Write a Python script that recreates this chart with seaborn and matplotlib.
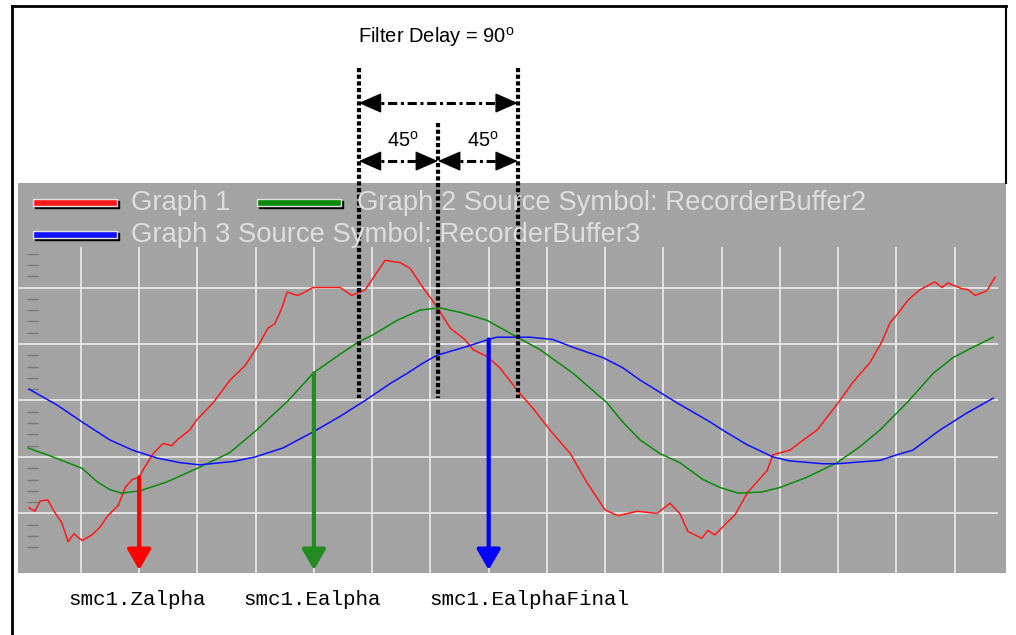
import numpy as np
import pandas as pd
import seaborn as sns
from matplotlib import pyplot as plt
from matplotlib.patches import Rectangle
from matplotlib.lines import Line2D

# --- data (t in samples, value in scope units) ---
red_t = [1.1, 2.1, 3.0, 4.3, 5.5, 6.7, 7.8, 8.8, 10.2, 11.9, 13.3, 14.6, 16.4, 17.6,
         18.8, 20.0, 20.6, 22.4, 24.1, 25.6, 26.5, 28.7, 29.9, 32.7, 35.6, 38.2, 40.7,
         42.1, 43.3, 44.5, 45.4, 47.1, 48.1, 49.8, 52.7, 54.5, 56.5, 58.8, 62.2, 64.8,
         66.5, 68.7, 71.1, 73.4, 75.9, 77.3, 79.7, 81.9, 84.9, 87.6, 90.5, 94.0, 96.9,
         100.0, 102.2, 105.5, 108.9, 111.1, 112.8, 114.2, 116.6, 117.6, 118.8, 122.3,
         124.5, 127.8, 128.8, 131.7, 134.0, 136.4, 140.0, 142.5, 145.5, 147.5, 148.9,
         150.1, 152.0, 154.0, 156.6, 157.8, 158.8, 161.2, 162.3, 163.5, 165.5, 166.9]
red_v = [-0.95, -0.98, -0.89, -0.88, -0.99, -1.08, -1.25, -1.18, -1.24, -1.19, -1.12,
         -1.02, -0.93, -0.77, -0.70, -0.68, -0.62, -0.47, -0.38, -0.40, -0.35, -0.26,
         -0.17, -0.02, 0.18, 0.31, 0.51, 0.64, 0.68, 0.82, 0.96, 0.93, 0.95, 1.00, 1.00,
         1.00, 0.93, 0.98, 1.24, 1.22, 1.17, 1.00, 0.83, 0.64, 0.54, 0.45, 0.39, 0.29,
         0.09, -0.07, -0.26, -0.47, -0.73, -0.97, -1.02, -0.98, -1.00, -0.91, -1.00,
         -1.16, -1.22, -1.15, -1.19, -1.01, -0.81, -0.62, -0.48, -0.44, -0.35, -0.26,
         -0.02, 0.16, 0.34, 0.52, 0.69, 0.76, 0.89, 0.98, 1.05, 1.00, 1.04, 0.99, 0.98,
         0.93, 0.97, 1.09]

green_t = [0.9, 4.7, 10.2, 12.8, 15.0, 17.0, 20.1, 24.8, 30.4, 35.6, 40.2, 45.4, 48.8,
           49.8, 54.5, 57.4, 60.1, 64.3, 68.2, 71.6, 75.1, 79.7, 84.9, 88.8, 94.5, 100.3,
           103.0, 106.0, 109.4, 112.8, 116.8, 119.7, 122.8, 126.9, 130.0, 134.6, 139.8,
           143.7, 147.2, 151.8, 156.3, 159.7, 163.1, 166.6]
green_v = [-0.42, -0.49, -0.60, -0.72, -0.79, -0.82, -0.80, -0.72, -0.59, -0.46, -0.26,
           -0.01, 0.18, 0.24, 0.41, 0.51, 0.58, 0.71, 0.80, 0.82, 0.78, 0.71, 0.56, 0.45,
           0.24, -0.02, -0.19, -0.35, -0.47, -0.55, -0.70, -0.77, -0.82, -0.81, -0.77,
           -0.68, -0.55, -0.41, -0.26, -0.02, 0.24, 0.38, 0.47, 0.56]

blue_t = [1.1, 5.9, 10.2, 15.0, 18.9, 23.1, 27.0, 30.4, 36.1, 39.9, 44.7, 49.8, 54.5,
          58.8, 63.1, 66.0, 68.7, 71.1, 76.4, 79.9, 81.4, 83.7, 87.1, 91.0, 94.5, 99.6,
          103.0, 106.0, 112.3, 118.0, 120.1, 124.3, 128.8, 131.7, 137.4, 139.8, 147.2,
          150.1, 152.8, 157.5, 162.1, 166.6]
blue_v = [0.10, -0.04, -0.19, -0.35, -0.44, -0.51, -0.55, -0.57, -0.54, -0.50, -0.42,
          -0.28, -0.14, 0.00, 0.15, 0.24, 0.33, 0.40, 0.48, 0.54, 0.56, 0.56, 0.56, 0.54,
          0.47, 0.38, 0.29, 0.18, -0.02, -0.19, -0.26, -0.39, -0.50, -0.535, -0.56,
          -0.56, -0.53, -0.48, -0.44, -0.26, -0.11, 0.02]

series_names = ["Graph 1",
                "Graph 2 Source Symbol: RecorderBuffer2",
                "Graph 3 Source Symbol: RecorderBuffer3"]
series_colors = ["#ff1a1a", "#0a8a0a", "#1010ff"]

# probe arrows: sample position, label
probe_t = [20, 50, 80]
probe_labels = ["smc1.Zalpha", "smc1.Ealpha", "smc1.EalphaFinal"]
probe_label_t = [19.7, 49.7, 86.9]
probe_colors = ["#ff0000", "#228b22", "#0000ff"]

# filter delay markers (samples)
delay_t = [57.7, 71.3, 85.0]

grid_t = np.arange(10, 161, 10)
grid_v = [-1.0, -0.5, 0.0, 0.5, 1.0]
minor_v = [v / 10 for v in range(-13, 14) if v % 5 != 0]

if __name__ == "__main__":
    df = pd.concat([
        pd.DataFrame({"t": red_t, "value": red_v, "series": series_names[0]}),
        pd.DataFrame({"t": green_t, "value": green_v, "series": series_names[1]}),
        pd.DataFrame({"t": blue_t, "value": blue_v, "series": series_names[2]}),
    ], ignore_index=True)

    fig = plt.figure(figsize=(10.16, 6.35), dpi=100)
    ax = fig.add_axes([18 / 1016, 62 / 635, 988 / 1016, 390 / 635])
    ax.set_facecolor("#a3a3a3")
    xlo, xhi, ylo, yhi = -0.8, 168.8, -1.527, 1.925
    ax.set_xlim(xlo, xhi)
    ax.set_ylim(ylo, yhi)
    for s in ax.spines.values():
        s.set_visible(False)
    ax.set_xticks([])
    ax.set_yticks([])

    # grid and left scale marks
    ax.vlines(grid_t, ylo, 1.36, color="#e6e6e6", lw=1.3, zorder=1)
    ax.hlines(grid_v, xlo, 167.4, color="#e6e6e6", lw=1.3, zorder=1)
    ax.hlines(minor_v, 0.8, 2.7, color="#787878", lw=1.0, zorder=1)

    sns.lineplot(data=df, x="t", y="value", hue="series", hue_order=series_names,
                 palette=series_colors, estimator=None, sort=False, legend=False,
                 linewidth=1.1, ax=ax, zorder=3)
    ax.set_xlabel("")
    ax.set_ylabel("")

    # probe arrows down from each curve
    curves = [(red_t, red_v), (green_t, green_v), (blue_t, blue_v)]
    for (ct, cv), pt, col, lab, lt in zip(curves, probe_t, probe_colors,
                                          probe_labels, probe_label_t):
        start = cv[int(np.argmin(np.abs(np.array(ct) - pt)))]
        ax.annotate("", xy=(pt, -1.50), xytext=(pt, start),
                    arrowprops=dict(arrowstyle="-|>,head_length=0.62,head_width=0.36",
                                    mutation_scale=20, color=col, lw=3.0,
                                    shrinkA=0, shrinkB=0), zorder=5)
        ax.text(lt, -1.81, lab, ha="center", va="baseline", fontsize=15,
                family="Liberation Mono", color="black")

    # filter delay annotation
    dot = (0, (1, 0.6))
    for i, dt in enumerate(delay_t):
        top = 2.456 if i == 1 else 2.94
        ax.plot([dt, dt], [top, 0.022], color="black", lw=3, ls=dot,
                clip_on=False, zorder=6)
    spans = [(delay_t[0], delay_t[2], 2.633),
             (delay_t[0], delay_t[1], 2.119),
             (delay_t[1], delay_t[2], 2.119)]
    head_kw = dict(arrowstyle="-|>,head_length=0.8,head_width=0.35",
                   mutation_scale=18, color="black", lw=1,
                   shrinkA=0, shrinkB=0)
    for x0, x1, yy in spans:
        ax.plot([x0 + 1.5, x1 - 1.5], [yy, yy], color="black", lw=2.2,
                ls=(0, (3, 1.2, 1, 1.2)), clip_on=False, zorder=6)
        ax.annotate("", xy=(x0, yy), xytext=(x0 + 2.6, yy), arrowprops=head_kw,
                    annotation_clip=False)
        ax.annotate("", xy=(x1, yy), xytext=(x1 - 2.6, yy), arrowprops=head_kw,
                    annotation_clip=False)
    ax.text(57.55, 3.164, r"Filter Delay = 90$^{\mathregular{o}}$", ha="left",
            va="baseline", fontsize=14.5, family="Liberation Sans")
    for lx in (62.5, 76.3):
        ax.text(lx, 2.243, r"45$^{\mathregular{o}}$", ha="left", va="baseline",
                fontsize=14.5, family="Liberation Sans")

    # legend drawn as on the recorder screen
    leg = [(0.0152, 0.941, 0.1144, 0.9487, 0),
           (0.2419, 0.941, 0.3431, 0.9487, 1),
           (0.0152, 0.859, 0.1144, 0.8667, 2)]
    for hx, hy, tx, ty, k in leg:
        ax.add_patch(Rectangle((hx + 0.002, hy - 0.006), 0.085, 0.018,
                               transform=ax.transAxes, color="black", zorder=7))
        ax.add_patch(Rectangle((hx, hy), 0.085, 0.018, transform=ax.transAxes,
                               facecolor=series_colors[k], edgecolor="#e0e0e0",
                               lw=1, zorder=8))
        ax.text(tx, ty, series_names[k], transform=ax.transAxes, ha="left",
                va="center", fontsize=19.8, family="Liberation Sans",
                color="#dedede", zorder=8)

    # outer frame of the screenshot
    fig.add_artist(Line2D([12 / 1016, 12 / 1016], [0, 1 - 6 / 635], color="black", lw=2))
    fig.add_artist(Line2D([12 / 1016, 1006 / 1016], [1 - 6 / 635, 1 - 6 / 635],
                          color="black", lw=2))
    fig.add_artist(Line2D([1006 / 1016, 1006 / 1016], [1 - 6 / 635, 1 - 183 / 635],
                          color="black", lw=1.5))

    plt.savefig("out.png", dpi=100)
